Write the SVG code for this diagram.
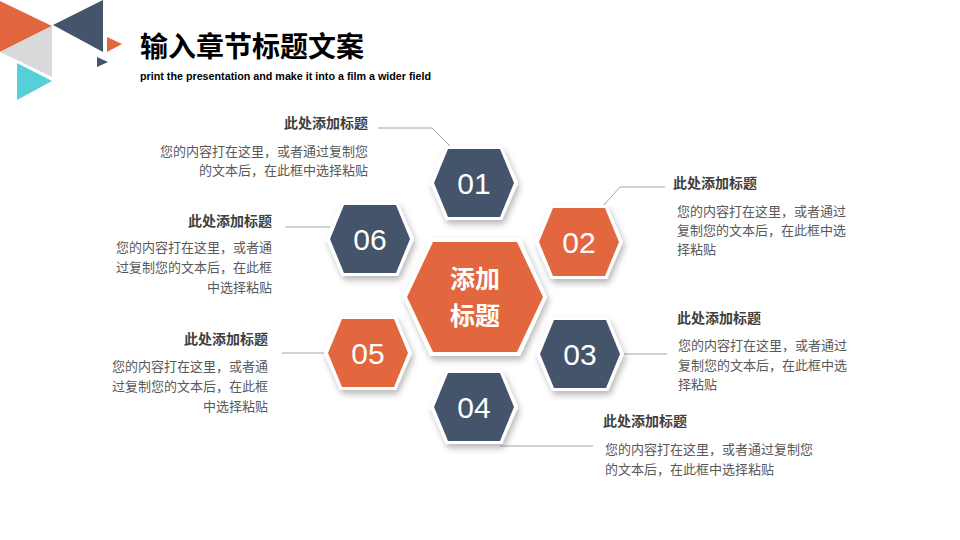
<svg xmlns="http://www.w3.org/2000/svg" xmlns:xlink="http://www.w3.org/1999/xlink" width="960" height="540" viewBox="0 0 960 540">
<defs>
  <filter id="sh" x="-30%" y="-30%" width="160%" height="170%">
    <feDropShadow dx="2" dy="4" stdDeviation="3" flood-color="#000" flood-opacity="0.28"/>
  </filter>
  <polygon id="sOut" points="-44,0 -28,-37 28,-37 44,0 28,37 -28,37"/>
  <polygon id="sIn" points="-40,0 -26,-34 26,-34 40,0 26,34 -26,34"/>
  <polygon id="cOut" points="-72,0 -45,-59 45,-59 72,0 45,59 -45,59"/>
  <polygon id="cIn" points="-68,0 -42,-55 42,-55 68,0 42,55 -42,55"/>
  <style>
    .navy{fill:#44546A}
    .orange{fill:#E2673F}
    .white{fill:#FFFFFF}
    .num{font-family:"Liberation Sans",Arial,sans-serif;font-size:30px;fill:#FFFFFF;text-anchor:middle}
    .ctr{font-family:"Noto Sans CJK SC",sans-serif;font-size:25px;font-weight:bold;fill:#FFFFFF;text-anchor:middle}
    .ttl{font-family:"Noto Sans CJK SC",sans-serif;font-size:14px;font-weight:bold;fill:#404040}
    .body{font-family:"Noto Sans CJK SC",sans-serif;font-size:13px;fill:#595959}
    .r{text-anchor:end}
    .conn{fill:none;stroke:#A6A6A6;stroke-width:1}
  </style>
</defs>
<rect width="960" height="540" fill="#FFFFFF"/>

<g id="decor">
  <polygon points="0,1 52,26 0,52" fill="#E2673F"/>
  <polygon points="0,52 52,26 52,77" fill="#D9D9DB"/>
  <polygon points="53,25 103,0 103,52" fill="#44546A"/>
  <polygon points="17,63 52,81 17,100" fill="#55D0D8"/>
  <polygon points="107,37 122,44 107,52" fill="#E2673F"/>
  <polygon points="97,57 108,62 97,67" fill="#44546A"/>
</g>

<g id="header">
  <text x="140" y="57" style="font-family:'Noto Sans CJK SC',sans-serif;font-size:28px;font-weight:bold;fill:#000">输入章节标题文案</text>
  <text x="140" y="80" textLength="291" lengthAdjust="spacingAndGlyphs" style="font-family:'Liberation Sans',Arial,sans-serif;font-size:11px;font-weight:bold;fill:#000">print the presentation and make it into a film a wider field</text>
</g>

<g id="connectors">
  <polyline class="conn" points="378,128 432,128 450,146"/>
  <polyline class="conn" points="603,206 620,187 665,187"/>
  <polyline class="conn" points="622,354 667,354"/>
  <polyline class="conn" points="500,446 593,446"/>
  <polyline class="conn" points="282,353 324,353"/>
  <polyline class="conn" points="285,227 330,227"/>
</g>

<g id="node-center" transform="translate(475,297)">
  <use href="#cOut" class="white" filter="url(#sh)"/>
  <use href="#cIn" class="orange"/>
  <text class="ctr"><tspan x="0" y="-9">添加</tspan><tspan x="0" y="28">标题</tspan></text>
</g>

<g id="node-01" transform="translate(474,183)">
  <use href="#sOut" class="white" filter="url(#sh)"/>
  <use href="#sIn" class="navy"/>
  <text class="num" x="0" y="11">01</text>
</g>
<g id="node-02" transform="translate(579,242)">
  <use href="#sOut" class="white" filter="url(#sh)"/>
  <use href="#sIn" class="orange"/>
  <text class="num" x="0" y="11">02</text>
</g>
<g id="node-03" transform="translate(580,354)">
  <use href="#sOut" class="white" filter="url(#sh)"/>
  <use href="#sIn" class="navy"/>
  <text class="num" x="0" y="11">03</text>
</g>
<g id="node-04" transform="translate(474,407)">
  <use href="#sOut" class="white" filter="url(#sh)"/>
  <use href="#sIn" class="navy"/>
  <text class="num" x="0" y="11">04</text>
</g>
<g id="node-05" transform="translate(368,353)">
  <use href="#sOut" class="white" filter="url(#sh)"/>
  <use href="#sIn" class="orange"/>
  <text class="num" x="0" y="11">05</text>
</g>
<g id="node-06" transform="translate(370,239)">
  <use href="#sOut" class="white" filter="url(#sh)"/>
  <use href="#sIn" class="navy"/>
  <text class="num" x="0" y="11">06</text>
</g>

<g id="label-01">
  <text class="ttl r" x="368" y="128">此处添加标题</text>
  <text class="body r" x="368" y="156">您的内容打在这里，或者通过复制您</text>
  <text class="body r" x="368" y="175">的文本后，在此框中选择粘贴</text>
</g>
<g id="label-02">
  <text class="ttl" x="673" y="188">此处添加标题</text>
  <text class="body" x="677" y="216">您的内容打在这里，或者通过</text>
  <text class="body" x="677" y="235">复制您的文本后，在此框中选</text>
  <text class="body" x="677" y="254">择粘贴</text>
</g>
<g id="label-03">
  <text class="ttl" x="677" y="323">此处添加标题</text>
  <text class="body" x="678" y="350">您的内容打在这里，或者通过</text>
  <text class="body" x="678" y="370">复制您的文本后，在此框中选</text>
  <text class="body" x="678" y="389">择粘贴</text>
</g>
<g id="label-04">
  <text class="ttl" x="603" y="426">此处添加标题</text>
  <text class="body" x="605" y="454">您的内容打在这里，或者通过复制您</text>
  <text class="body" x="605" y="474">的文本后，在此框中选择粘贴</text>
</g>
<g id="label-05">
  <text class="ttl r" x="268" y="344">此处添加标题</text>
  <text class="body r" x="268" y="371">您的内容打在这里，或者通</text>
  <text class="body r" x="268" y="391">过复制您的文本后，在此框</text>
  <text class="body r" x="268" y="411">中选择粘贴</text>
</g>
<g id="label-06">
  <text class="ttl r" x="272" y="226">此处添加标题</text>
  <text class="body r" x="272" y="252">您的内容打在这里，或者通</text>
  <text class="body r" x="272" y="272">过复制您的文本后，在此框</text>
  <text class="body r" x="272" y="292">中选择粘贴</text>
</g>
</svg>
